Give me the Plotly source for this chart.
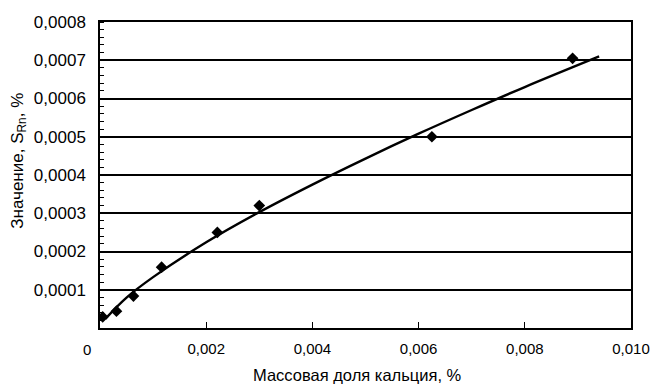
import plotly.graph_objects as go

# Measured points (mass fraction of calcium, %; value S_Rn, %)
x_points = [0.00005, 0.00031, 0.00063, 0.00116, 0.00221, 0.00300, 0.00625, 0.00890]
y_points = [0.000029, 0.000044, 0.0000835, 0.000159, 0.000250, 0.000320, 0.000500, 0.000705]

# Trend curve
x_curve = [0.0001, 0.0005, 0.0010, 0.0020, 0.0030, 0.0040, 0.0050, 0.0060, 0.0070, 0.0080, 0.0094]
y_curve = [0.000024, 0.0000796, 0.000133, 0.000224, 0.000303, 0.000375, 0.000443, 0.000508, 0.000570, 0.000630, 0.000710]

x_tickvals = [0.002, 0.004, 0.006, 0.008, 0.010]
x_ticktext = ["0,002", "0,004", "0,006", "0,008", "0,010"]
y_tickvals = [0.0001, 0.0002, 0.0003, 0.0004, 0.0005, 0.0006, 0.0007, 0.0008]
y_ticktext = ["0,0001", "0,0002", "0,0003", "0,0004", "0,0005", "0,0006", "0,0007", "0,0008"]

x_title = "Массовая доля кальция, %"
y_title = "Значение, S<sub>Rn</sub>, %"

FONT = "Liberation Sans, Arial, sans-serif"

fig = go.Figure()
fig.add_trace(go.Scatter(
    x=x_curve, y=y_curve, mode="lines",
    line=dict(color="black", width=2.4, shape="spline"),
    hoverinfo="skip", showlegend=False,
))
fig.add_trace(go.Scatter(
    x=x_points, y=y_points, mode="markers",
    marker=dict(symbol="diamond", size=9, color="black"),
    showlegend=False,
))

fig.add_annotation(
    x=0, y=0, xref="x", yref="y", text="0", showarrow=False,
    xshift=-13, yshift=-21, font=dict(family=FONT, size=15, color="black"),
)
fig.add_annotation(
    x=0.485, y=-0.155, xref="paper", yref="paper", text=x_title, showarrow=False,
    xanchor="center", yanchor="middle", font=dict(family=FONT, size=16.5, color="black"),
)
fig.add_annotation(
    x=-0.153, y=0.546, xref="paper", yref="paper", text=y_title, showarrow=False,
    textangle=-90, xanchor="center", yanchor="middle",
    font=dict(family=FONT, size=17, color="black"),
)

fig.update_layout(
    width=662, height=387,
    margin=dict(l=100, r=20, t=22, b=59),
    paper_bgcolor="white", plot_bgcolor="white",
    font=dict(family=FONT, color="black"),
    xaxis=dict(
        range=[0, 0.010], tickvals=x_tickvals, ticktext=x_ticktext,
        tickfont=dict(size=15), showgrid=False, zeroline=False,
        showline=True, linecolor="black", linewidth=1.5, mirror=True,
        ticks="inside", ticklen=6, tickcolor="black", tickwidth=1.2,
        ticklabelstandoff=6,
    ),
    yaxis=dict(
        range=[0, 0.0008], tickvals=y_tickvals, ticktext=y_ticktext,
        tickfont=dict(size=17), showgrid=True, gridcolor="black", gridwidth=1.5,
        zeroline=False, showline=True, linecolor="black", linewidth=1.5, mirror=True,
        ticks="", ticklabelstandoff=9,
        minor=dict(dtick=0.00002, ticks="inside", ticklen=4, tickcolor="black",
                   tickwidth=1, showgrid=False),
    ),
)

fig.write_html("out.html")
